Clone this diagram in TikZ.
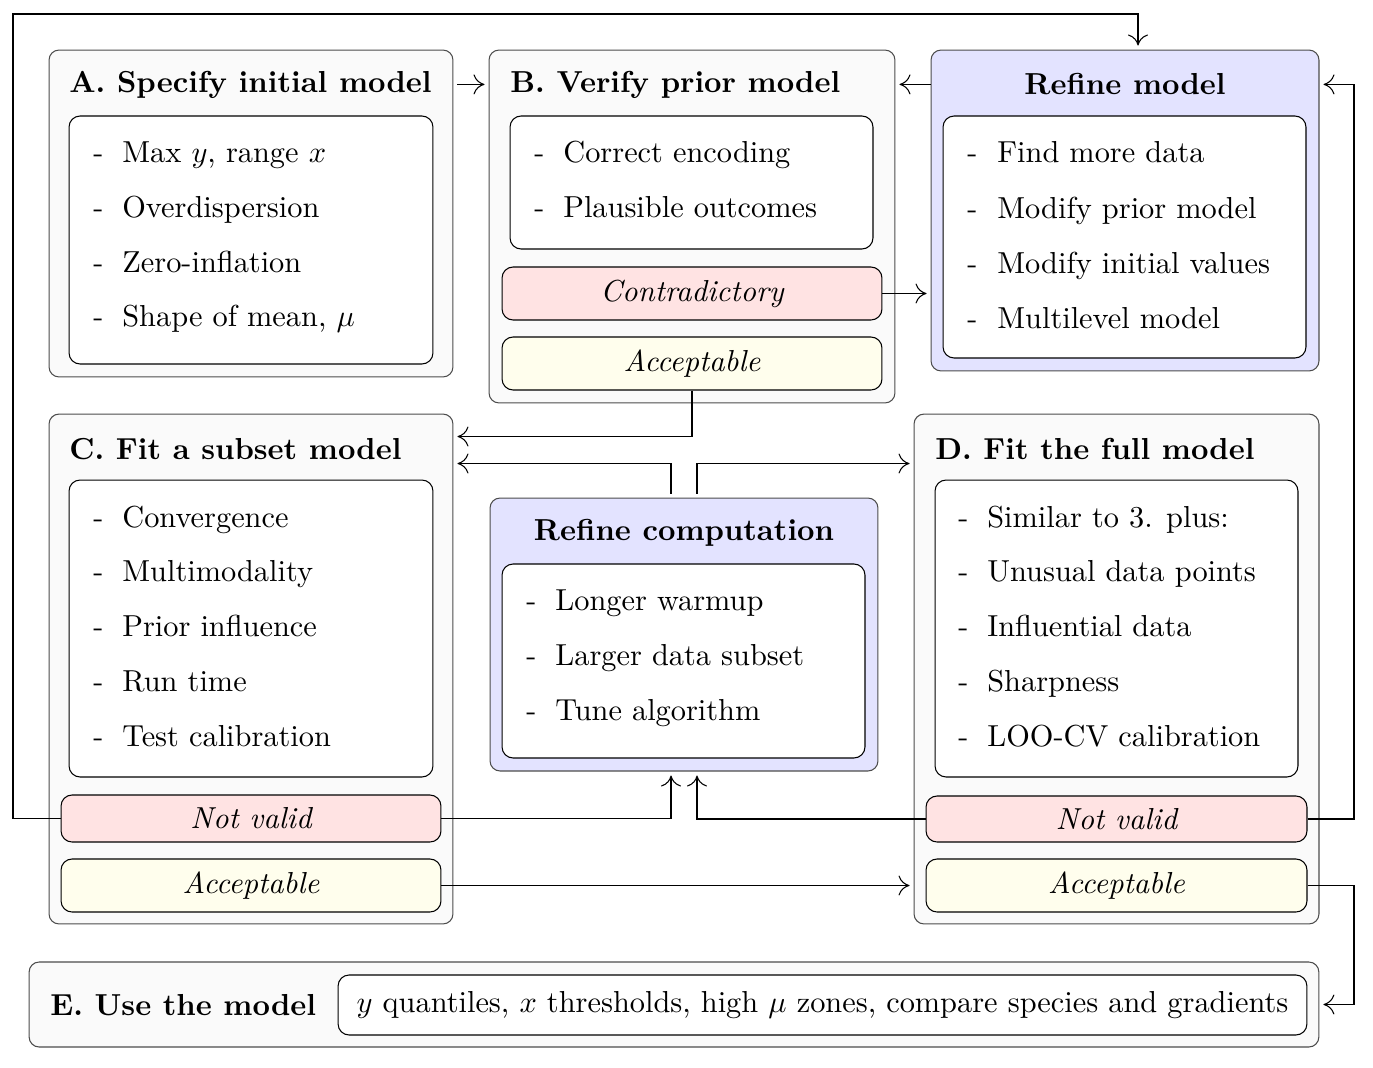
\documentclass[tikz,border=0pt]{standalone}
\usepackage{amsmath}
\usepackage{tikz}
\usetikzlibrary{arrows.meta,calc,positioning}

\DeclareFontShape{TU}{lmr}{m}{n}{<->"[lmroman10-regular]:+tlig;"}{}
\DeclareFontShape{TU}{lmr}{m}{it}{<->"[lmroman10-italic]:+tlig;"}{}
\DeclareFontShape{TU}{lmr}{b}{n}{<->"[lmroman10-bold]:+tlig;"}{}
\DeclareFontShape{TU}{lmr}{bx}{n}{<->"[lmroman10-bold]:+tlig;"}{}
\DeclareFontShape{OML}{cmm}{m}{it}{<->cmmi10}{}

\tikzset{
  stage/.style={draw=black!70, fill=black!2, rounded corners=0.2cm, line width=0.6pt, inner sep=0pt},
  refine/.style={stage, fill=blue!11},
  list/.style={draw=black, fill=white, rounded corners=0.22cm, line width=0.6pt, inner sep=0pt},
  bad/.style={list, fill=red!11, font=\itshape},
  good/.style={list, fill=yellow!7, font=\itshape},
  title/.style={anchor=base west, inner sep=0pt, font=\bfseries},
  item/.style={anchor=base west, inner sep=0pt},
  arr/.style={-{To[length=0.22cm,width=0.4cm]}, line width=0.6pt, shorten >=0.08cm}
}

\begin{document}
\fontsize{17.28}{20}\selectfont
\begin{tikzpicture}[x=0.02cm, y=-0.02cm]
\useasboundingbox (0,0) rectangle (1373,1068);

% A
\node[stage, minimum width=8.08cm, minimum height=6.54cm] (A) at (251,213.5) {};
\node[list, minimum width=7.28cm, minimum height=4.96cm] (Ai) at (251,240) {};
\node[title] (At) at (69,92) {A. Specify initial model};
\foreach \txt [count=\i] in {{Max $y$, range $x$}, Overdispersion, Zero-inflation, {Shape of mean, $\mu$}}
  {\node[item] at (93,{163+54.5*(\i-1)}) {-};
   \node[item] at (122,{163+54.5*(\i-1)}) {\txt};}

% B
\node[stage, minimum width=8.12cm, minimum height=7.06cm] (B) at (692,226.5) {};
\node[list, minimum width=7.26cm, minimum height=2.66cm] (Bi) at (691.5,182.5) {};
\node[title] (Bt) at (510,92) {B. Verify prior model};
\foreach \txt [count=\i] in {Correct encoding, Plausible outcomes}
  {\node[item] at (534,{163+54.5*(\i-1)}) {-};
   \node[item] at (563,{163+54.5*(\i-1)}) {\txt};}
\node[bad, minimum width=7.6cm, minimum height=1.06cm] (Bc) at (692,293.5) {Contradictory};
\node[good, minimum width=7.6cm, minimum height=1.06cm] (Ba) at (692,363.5) {Acceptable};

% refine model
\node[refine, minimum width=7.76cm, minimum height=6.42cm] (R) at (1125,210.5) {};
\node[list, minimum width=7.26cm, minimum height=4.84cm] (Ri) at (1124.5,237) {};
\node[title, anchor=base] (Rt) at (1125,95) {Refine model};
\foreach \txt [count=\i] in {Find more data, Modify prior model, Modify initial values, Multilevel model}
  {\node[item] at (967,{163+55*(\i-1)}) {-};
   \node[item] at (997,{163+55*(\i-1)}) {\txt};}

% C
\node[stage, minimum width=8.08cm, minimum height=10.2cm] (C) at (251,669) {};
\node[list, minimum width=7.28cm, minimum height=5.94cm] (Ci) at (251,628.5) {};
\node[title] (Ct) at (69,459) {C. Fit a subset model};
\foreach \txt [count=\i] in {Convergence, Multimodality, Prior influence, Run time, Test calibration}
  {\node[item] at (93,{527+54.8*(\i-1)}) {-};
   \node[item] at (122,{527+54.8*(\i-1)}) {\txt};}
\node[bad, minimum width=7.6cm, minimum height=0.94cm] (Cn) at (251,818.5) {Not valid};
\node[good, minimum width=7.6cm, minimum height=1.06cm] (Ca) at (251,885.5) {Acceptable};

% refine computation
\node[refine, minimum width=7.76cm, minimum height=5.46cm] (K) at (684,634.5) {};
\node[list, minimum width=7.26cm, minimum height=3.88cm] (Ki) at (683.5,661) {};
\node[title, anchor=base] (Kt) at (684,540) {Refine computation};
\foreach \txt [count=\i] in {Longer warmup, Larger data subset, Tune algorithm}
  {\node[item] at (526,{610+55*(\i-1)}) {-};
   \node[item] at (555,{610+55*(\i-1)}) {\txt};}

% D
\node[stage, minimum width=8.1cm, minimum height=10.2cm] (D) at (1116.5,669) {};
\node[list, minimum width=7.26cm, minimum height=5.94cm] (Di) at (1116.5,628.5) {};
\node[title] (Dt) at (935,459) {D. Fit the full model};
\foreach \txt [count=\i] in {Similar to 3. plus:, Unusual data points, Influential data, Sharpness, LOO-CV calibration}
  {\node[item] at (958,{527+54.8*(\i-1)}) {-};
   \node[item] at (987,{527+54.8*(\i-1)}) {\txt};}
\node[bad, minimum width=7.62cm, minimum height=0.92cm] (Dn) at (1116.5,819) {Not valid};
\node[good, minimum width=7.62cm, minimum height=1.06cm] (Da) at (1116.5,885.5) {Acceptable};

% E
\node[stage, minimum width=25.8cm, minimum height=1.7cm] (E) at (674,1004.5) {};
\node[list, minimum width=19.38cm, minimum height=1.2cm] (Ei) at (822.5,1005)
  {$y$ quantiles, $x$ thresholds, high $\mu$ zones, compare species and gradients};
\node[title] (Et) at (50,1015) {E. Use the model};

\coordinate (lx) at (13,14);
\coordinate (tx) at (1138,14);
\coordinate (rx) at (1354,0);

\draw[arr, shorten <=0.08cm] (A.east |- Bt) -- (B.west |- Bt);
\draw[arr] (R.west |- Bt) -- (B.east |- Bt);
\draw[arr] (Bc.east) -- (Bc.east -| R.west);
\draw[arr] (Cn.west) -| (lx) -| (tx |- R.north);
\draw[arr] (Ba.south) |- ([yshift=-0.46cm]C.north east);
\draw[arr, shorten <=0.08cm] ([xshift=-0.26cm]K.north) |- ([yshift=-1cm]C.north east);
\draw[arr, shorten <=0.08cm] ([xshift=0.26cm]K.north) |- ([yshift=-1cm]D.north west);
\draw[arr] (Cn.east) -| ([xshift=-0.26cm]K.south);
\draw[arr] (Dn.west) -| ([xshift=0.26cm]K.south);
\draw[arr] (Ca.east) -- (Ca.east -| D.west);
\draw[arr] (Dn.east) -- (Dn.east -| rx) |- (R.east |- Bt);
\draw[arr] (Da.east) -- (Da.east -| rx) |- (E.east);
\end{tikzpicture}
\end{document}
